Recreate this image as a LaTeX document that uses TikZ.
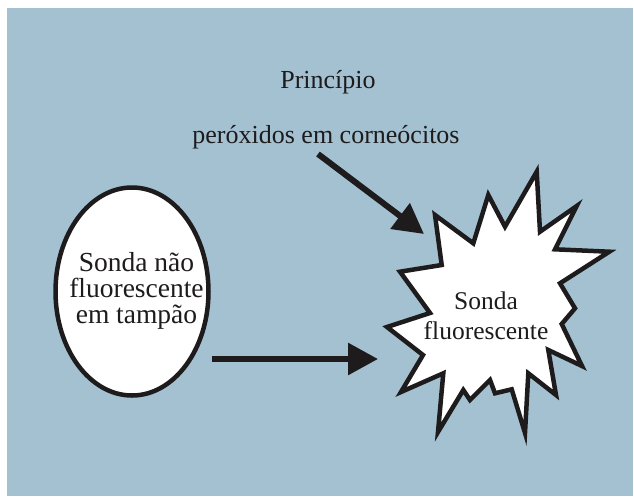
\documentclass[tikz,border=0pt]{standalone}
\usepackage{fontspec}
\setmainfont{Liberation Serif}
\usetikzlibrary{shapes.geometric,arrows.meta}
\definecolor{bgblue}{RGB}{163,193,208}
\definecolor{ink}{RGB}{30,27,28}
\begin{document}
\begin{tikzpicture}[x=1pt,y=-1pt,
  txt/.style={font=\fontsize{26}{26}\selectfont, text=ink, inner sep=0pt},
  bigarrow/.style={line width=6pt, draw=ink, -{Triangle[length=30pt,width=31pt]}},
  outline/.style={draw=ink, line width=4.5pt, fill=white}]
\useasboundingbox (0,0) rectangle (634,496);
\fill[white] (0,0) rectangle (634,496);
\fill[bgblue] (7,8) rectangle (633,496);
\node[txt, anchor=base] (title) at (328,88) {Princípio};
\node[txt, anchor=base] (cause) at (326,143) {peróxidos em corneócitos};
\node[outline, ellipse, minimum width=153pt, minimum height=208pt, inner sep=0pt]
  (probe) at (132,291.5) {};
\node[txt, align=center, font=\fontsize{27.5}{26}\selectfont] (probetext) at (136.5,291)
  {Sonda não\\fluorescente\\em tampão};
\filldraw[outline, line join=miter, miter limit=10]
  (536.7,171.7) -- (540,231.7) -- (576.7,206) -- (555,249.3) -- (609.3,251.7)
  -- (560,283.3) -- (575,308.3) -- (561.7,324) -- (582,366) -- (548.3,350)
  -- (556,395) -- (528.3,373.3) -- (525,433) -- (511.7,389.3) -- (495,393.3)
  -- (490,380) -- (470,400) -- (463.3,390) -- (438,432) -- (443.3,373.3)
  -- (401,392) -- (423,355) -- (387,327) -- (430,313) -- (400,271.7)
  -- (441.7,265) -- (435,215) -- (473.3,243.3) -- (488.3,195) -- (505,226.7) -- cycle;
\node[txt, font=\fontsize{25.5}{30}\selectfont, align=center] (fluor) at (486,316)
  {Sonda\\fluorescente};
\coordinate (a1s) at (318,154);
\coordinate (a1e) at (424,234);
\coordinate (a2s) at (212,359);
\coordinate (a2e) at (378,359);
\draw[bigarrow] (a1s) -- (a1e);
\draw[bigarrow] (a2s) -- (a2e);
\end{tikzpicture}
\end{document}
